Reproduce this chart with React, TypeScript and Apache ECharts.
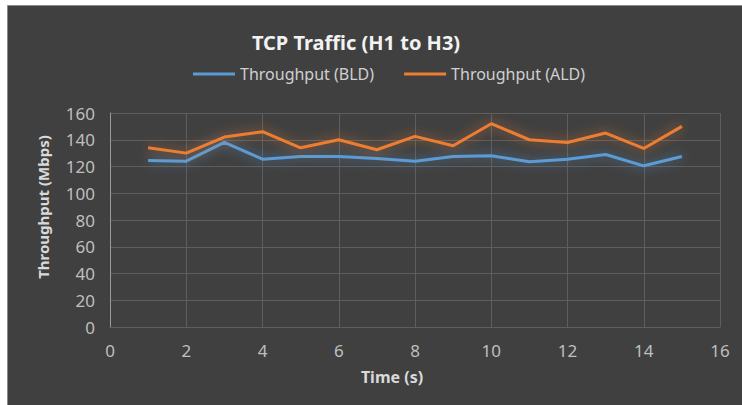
import React, { useEffect, useRef } from "react";
import * as echarts from "echarts";

const times = [1, 2, 3, 4, 5, 6, 7, 8, 9, 10, 11, 12, 13, 14, 15];
const bld = [124.5, 124, 138, 125.5, 127.5, 127.5, 126, 124, 127.5, 128, 123.5, 125.5, 129, 120.5, 127.5];
const ald = [134, 130, 142, 146, 134, 140, 132.5, 142.5, 135.5, 152, 140, 138, 145, 133.5, 150];
const seriesNames = ["Throughput (BLD)", "Throughput (ALD)"];
const titleText = "TCP Traffic (H1 to H3)";
const xName = "Time (s)";
const yName = "Throughput (Mbps)";

const FONT = "'Noto Sans', sans-serif";

export default function App() {
  const ref = useRef<HTMLDivElement>(null);
  useEffect(() => {
    if (!ref.current) return;
    const chart = echarts.init(ref.current, undefined, { renderer: "svg" });
    const mk = (arr: number[]) => times.map((t, i) => [t, arr[i]]);
    chart.setOption({
      animation: false,
      textStyle: { fontFamily: FONT },
      graphic: [
        {
          type: "rect",
          z: -10,
          shape: { x: 7.5, y: 5.5, width: 740, height: 405 },
          style: { fill: "#404040", stroke: "#8a8a8a", lineWidth: 1 },
        },
      ],
      title: {
        text: titleText,
        left: 351,
        textAlign: "center",
        top: 27,
        textStyle: { color: "#f2f2f2", fontSize: 20, fontWeight: "bold", fontFamily: FONT },
      },
      legend: {
        top: 61,
        left: 188,
        itemWidth: 42,
        itemHeight: 3,
        itemGap: 30,
        icon: "rect",
        textStyle: { color: "#d0d0d0", fontSize: 16, fontFamily: FONT },
        data: seriesNames,
      },
      grid: { left: 110, right: 22, top: 113, bottom: 78 },
      xAxis: {
        type: "value",
        min: 0,
        max: 16,
        interval: 2,
        name: xName,
        nameLocation: "middle",
        nameGap: 42,
        nameTextStyle: {
          color: "#d9d9d9",
          fontSize: 16,
          fontWeight: "bold",
          fontFamily: FONT,
          padding: [0, 46, 0, 0],
        },
        axisLine: { show: true, lineStyle: { color: "#5e5e5e" } },
        axisTick: { show: false },
        axisLabel: { color: "#bfbfbf", fontSize: 17, margin: 15, fontFamily: FONT },
        splitLine: { show: true, lineStyle: { color: "#5e5e5e", width: 1 } },
      },
      yAxis: {
        type: "value",
        min: 0,
        max: 160,
        interval: 20,
        name: yName,
        nameLocation: "middle",
        nameGap: 60,
        nameTextStyle: {
          color: "#d9d9d9",
          fontSize: 15,
          fontWeight: "bold",
          fontFamily: FONT,
          padding: [0, 0, 0, 26],
        },
        axisLine: { show: true, lineStyle: { color: "#9a9a9a" } },
        axisTick: { show: false },
        axisLabel: { color: "#bfbfbf", fontSize: 17, margin: 15, fontFamily: FONT },
        splitLine: { show: true, lineStyle: { color: "#5e5e5e", width: 1 } },
      },
      series: [
        {
          name: seriesNames[0],
          type: "line",
          data: mk(bld),
          symbol: "none",
          color: "#5b9bd5",
          lineStyle: { width: 3, color: "#5b9bd5", shadowBlur: 12, shadowColor: "rgba(91,155,213,0.7)" },
        },
        {
          name: seriesNames[1],
          type: "line",
          data: mk(ald),
          symbol: "none",
          color: "#ed7d31",
          lineStyle: { width: 3, color: "#ed7d31", shadowBlur: 12, shadowColor: "rgba(237,125,49,0.7)" },
        },
      ],
    });
    return () => chart.dispose();
  }, []);
  return (
    <div style={{ position: "fixed", left: 0, top: 0, width: 742, height: 405, background: "#ffffff" }}>
      <div ref={ref} style={{ width: 742, height: 405 }} />
    </div>
  );
}
